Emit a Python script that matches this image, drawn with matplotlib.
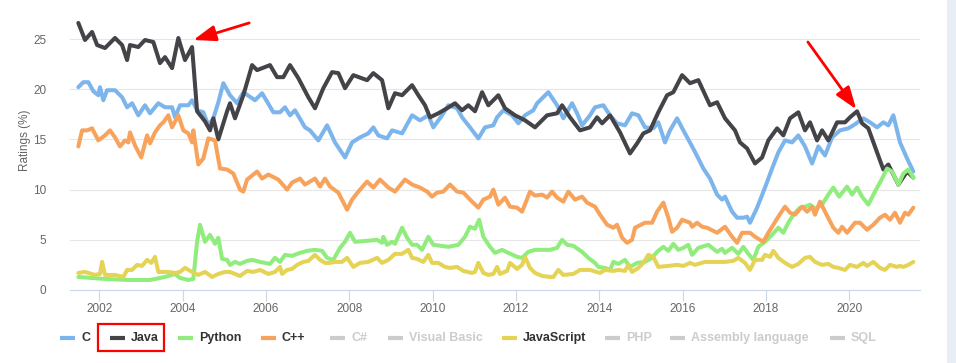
import numpy as np
import matplotlib
matplotlib.use('Agg')
import matplotlib.pyplot as plt
from matplotlib.lines import Line2D
from matplotlib.patches import Rectangle

plt.rcParams['font.family'] = ['Liberation Sans', 'DejaVu Sans']

# --- data (TIOBE style ratings, %) ---
c_t = [2001.50, 2001.62, 2001.74, 2001.86, 2001.98, 2002.02, 2002.10, 2002.19, 2002.38, 2002.55,
       2002.67, 2002.79, 2002.94, 2003.10, 2003.22, 2003.42, 2003.58, 2003.75, 2003.82, 2003.94,
       2004.14, 2004.23, 2004.35, 2004.50, 2004.62, 2004.74, 2004.86, 2004.98, 2005.14, 2005.31,
       2005.46, 2005.74, 2005.91, 2006.18, 2006.34, 2006.46, 2006.58, 2006.70, 2006.94, 2007.06,
       2007.26, 2007.47, 2007.66, 2007.90, 2008.07, 2008.26, 2008.46, 2008.58, 2008.70, 2008.91,
       2009.03, 2009.27, 2009.51, 2009.70, 2009.90, 2010.02, 2010.23, 2010.38, 2010.59, 2010.71,
       2010.90, 2011.10, 2011.26, 2011.46, 2011.55, 2011.70, 2011.91, 2012.06, 2012.22, 2012.42,
       2012.51, 2012.78, 2012.99, 2013.14, 2013.35, 2013.47, 2013.59, 2013.78, 2013.90, 2014.10,
       2014.26, 2014.43, 2014.62, 2014.79, 2014.94, 2015.10, 2015.30, 2015.42, 2015.58, 2015.70,
       2015.87, 2016.02, 2016.23, 2016.38, 2016.50, 2016.66, 2016.83, 2016.95, 2017.02, 2017.19,
       2017.31, 2017.46, 2017.55, 2017.62, 2017.79, 2017.98, 2018.15, 2018.30, 2018.46, 2018.63,
       2018.78, 2018.94, 2019.11, 2019.26, 2019.42, 2019.59, 2019.78, 2019.98, 2020.10, 2020.34,
       2020.50, 2020.67, 2020.82, 2020.94, 2021.06, 2021.22, 2021.39, 2021.54]
c_v = [20.2, 20.7, 20.7, 19.8, 19.4, 20.2, 18.9, 19.9, 19.9, 19.2,
       18.2, 18.6, 17.4, 18.4, 17.6, 18.6, 18.2, 18.2, 17.2, 18.4,
       18.4, 18.9, 17.9, 17.7, 16.4, 17.1, 18.7, 20.6, 19.4, 18.6,
       19.7, 18.9, 19.6, 17.7, 17.7, 18.2, 17.4, 17.9, 16.2, 15.9,
       14.9, 16.4, 14.7, 13.2, 14.7, 15.2, 15.6, 16.2, 15.4, 15.1,
       15.9, 15.6, 17.4, 16.9, 17.4, 16.2, 17.4, 18.4, 18.1, 17.2,
       16.2, 15.1, 16.2, 16.4, 17.2, 17.9, 17.4, 16.6, 17.4, 17.9,
       18.6, 19.7, 18.4, 17.1, 18.6, 17.6, 16.4, 17.4, 18.2, 18.4,
       17.4, 16.6, 16.4, 17.6, 17.4, 16.2, 16.1, 16.7, 14.7, 15.9,
       17.1, 15.9, 14.3, 13.1, 12.1, 11.1, 9.5, 9.0, 9.3, 7.8,
       7.2, 7.2, 7.3, 6.7, 8.2, 10.2, 12.1, 13.7, 14.9, 14.7,
       15.4, 14.3, 12.6, 14.3, 13.4, 15.2, 15.9, 16.1, 16.4, 17.1,
       16.7, 16.2, 16.7, 16.4, 17.4, 14.7, 13.1, 11.8]

java_t = [2001.50, 2001.66, 2001.83, 2001.95, 2002.14, 2002.38, 2002.55, 2002.67, 2002.74, 2002.94,
          2003.10, 2003.30, 2003.46, 2003.58, 2003.75, 2003.90, 2004.06, 2004.23, 2004.35, 2004.54,
          2004.66, 2004.74, 2004.86, 2005.07, 2005.14, 2005.26, 2005.46, 2005.67, 2005.79, 2006.10,
          2006.27, 2006.42, 2006.58, 2006.78, 2007.02, 2007.18, 2007.38, 2007.59, 2007.74, 2007.90,
          2008.10, 2008.43, 2008.58, 2008.79, 2008.94, 2009.10, 2009.27, 2009.51, 2009.66, 2009.82,
          2009.94, 2010.14, 2010.35, 2010.54, 2010.71, 2010.86, 2011.02, 2011.19, 2011.34, 2011.58,
          2011.74, 2011.98, 2012.22, 2012.46, 2012.75, 2012.99, 2013.11, 2013.30, 2013.54, 2013.78,
          2013.95, 2014.07, 2014.26, 2014.50, 2014.74, 2014.91, 2015.06, 2015.22, 2015.42, 2015.63,
          2015.78, 2015.99, 2016.18, 2016.38, 2016.66, 2016.83, 2017.02, 2017.26, 2017.38, 2017.55,
          2017.74, 2017.91, 2018.06, 2018.27, 2018.42, 2018.58, 2018.78, 2018.94, 2019.06, 2019.23,
          2019.35, 2019.50, 2019.71, 2019.90, 2020.02, 2020.19, 2020.31, 2020.46, 2020.67, 2020.82,
          2020.94, 2021.18, 2021.39, 2021.54]
java_v = [26.6, 24.9, 25.7, 24.4, 24.1, 25.1, 24.4, 22.9, 24.4, 24.2,
          24.9, 24.7, 22.6, 23.2, 22.1, 25.1, 22.9, 24.2, 17.8, 16.8,
          15.9, 17.1, 15.0, 17.8, 18.6, 17.1, 19.4, 22.4, 21.9, 22.4,
          21.2, 21.2, 22.4, 21.1, 19.2, 18.1, 20.1, 21.7, 21.6, 20.1,
          21.4, 20.9, 21.6, 20.9, 18.1, 19.6, 19.4, 20.4, 19.4, 18.4,
          17.2, 17.6, 18.1, 18.6, 17.9, 18.4, 17.8, 19.7, 18.4, 19.4,
          18.1, 17.4, 16.9, 16.2, 17.4, 17.6, 18.4, 17.2, 15.9, 16.2,
          17.2, 16.6, 17.4, 15.7, 13.6, 14.6, 15.6, 15.9, 17.7, 19.4,
          19.7, 21.4, 20.6, 20.9, 18.4, 18.7, 17.1, 15.9, 14.7, 14.1,
          12.6, 13.2, 14.9, 16.1, 15.4, 17.1, 17.7, 15.9, 16.7, 14.9,
          15.9, 14.9, 16.7, 16.7, 17.2, 17.8, 16.6, 16.1, 13.7, 12.0,
          12.5, 10.5, 11.8, 11.2]

python_t = [2001.50, 2001.83, 2002.14, 2002.70, 2003.22, 2003.58, 2003.82, 2003.94, 2004.14, 2004.26,
            2004.35, 2004.42, 2004.54, 2004.66, 2004.78, 2004.86, 2004.95, 2005.07, 2005.14, 2005.26,
            2005.38, 2005.55, 2005.67, 2005.86, 2006.10, 2006.22, 2006.34, 2006.46, 2006.63, 2006.82,
            2006.99, 2007.18, 2007.35, 2007.47, 2007.62, 2007.78, 2007.90, 2008.02, 2008.14, 2008.43,
            2008.67, 2008.79, 2008.82, 2008.91, 2009.03, 2009.10, 2009.27, 2009.39, 2009.51, 2009.63,
            2009.75, 2009.90, 2010.02, 2010.38, 2010.62, 2010.78, 2010.90, 2011.02, 2011.12, 2011.22,
            2011.38, 2011.50, 2011.67, 2011.82, 2012.03, 2012.15, 2012.30, 2012.46, 2012.58, 2012.82,
            2012.99, 2013.11, 2013.23, 2013.38, 2013.59, 2013.74, 2013.90, 2013.98, 2014.14, 2014.26,
            2014.34, 2014.46, 2014.62, 2014.74, 2014.91, 2015.10, 2015.27, 2015.39, 2015.54, 2015.66,
            2015.78, 2015.90, 2016.02, 2016.14, 2016.23, 2016.38, 2016.62, 2016.83, 2016.95, 2017.02,
            2017.19, 2017.34, 2017.46, 2017.58, 2017.70, 2017.82, 2017.98, 2018.15, 2018.30, 2018.42,
            2018.54, 2018.66, 2018.82, 2018.94, 2019.06, 2019.18, 2019.35, 2019.50, 2019.62, 2019.76,
            2019.95, 2020.07, 2020.19, 2020.31, 2020.46, 2020.62, 2020.79, 2020.91, 2021.03, 2021.18,
            2021.30, 2021.42, 2021.54]
python_v = [1.3, 1.2, 1.1, 1.0, 1.0, 1.3, 1.6, 1.2, 1.0, 1.1,
            4.8, 6.5, 4.8, 5.5, 4.6, 5.2, 3.1, 3.0, 2.5, 2.8,
            2.6, 2.9, 3.0, 2.8, 2.6, 3.2, 2.8, 3.5, 3.4, 3.7,
            3.9, 4.0, 3.9, 3.2, 3.0, 4.2, 4.8, 5.7, 4.8, 4.9,
            5.0, 4.7, 5.3, 4.5, 4.8, 4.6, 6.2, 5.2, 4.5, 4.5,
            4.0, 5.3, 4.5, 4.3, 4.5, 5.3, 6.3, 6.1, 7.0, 5.3,
            4.3, 3.7, 4.0, 3.7, 3.3, 3.2, 3.8, 4.0, 4.0, 4.0,
            4.2, 5.0, 4.5, 4.4, 3.8, 3.2, 2.7, 2.3, 2.2, 2.0,
            2.8, 2.6, 3.0, 2.3, 2.7, 2.8, 3.2, 3.8, 4.3, 3.9,
            4.6, 4.0, 4.2, 4.5, 3.5, 4.2, 4.5, 3.8, 4.1, 3.7,
            4.2, 3.6, 4.3, 3.6, 3.0, 4.3, 4.8, 5.5, 6.2, 5.7,
            6.7, 7.5, 8.2, 8.3, 8.5, 8.1, 8.5, 9.5, 10.2, 9.3,
            10.3, 9.5, 10.2, 9.3, 8.5, 9.8, 11.1, 12.1, 11.8, 10.5,
            11.6, 12.0, 11.2]

cpp_t = [2001.50, 2001.59, 2001.71, 2001.83, 2001.98, 2002.14, 2002.26, 2002.38, 2002.50, 2002.62,
         2002.70, 2002.74, 2002.86, 2003.01, 2003.15, 2003.22, 2003.34, 2003.46, 2003.54, 2003.66,
         2003.75, 2003.90, 2004.02, 2004.14, 2004.23, 2004.26, 2004.38, 2004.50, 2004.62, 2004.78,
         2004.90, 2005.07, 2005.22, 2005.38, 2005.46, 2005.55, 2005.79, 2005.91, 2006.06, 2006.30,
         2006.51, 2006.63, 2006.82, 2006.94, 2007.18, 2007.30, 2007.42, 2007.54, 2007.74, 2007.95,
         2008.07, 2008.22, 2008.43, 2008.58, 2008.74, 2008.94, 2009.10, 2009.34, 2009.51, 2009.70,
         2009.87, 2009.99, 2010.11, 2010.26, 2010.42, 2010.59, 2010.74, 2010.95, 2011.10, 2011.22,
         2011.38, 2011.46, 2011.58, 2011.74, 2011.86, 2012.03, 2012.15, 2012.34, 2012.46, 2012.63,
         2012.75, 2012.87, 2012.99, 2013.14, 2013.26, 2013.42, 2013.59, 2013.71, 2013.90, 2014.02,
         2014.19, 2014.34, 2014.43, 2014.55, 2014.67, 2014.79, 2014.86, 2015.10, 2015.27, 2015.39,
         2015.54, 2015.66, 2015.75, 2015.87, 2015.99, 2016.18, 2016.23, 2016.35, 2016.47, 2016.59,
         2016.83, 2017.02, 2017.19, 2017.31, 2017.43, 2017.62, 2017.74, 2017.94, 2018.06, 2018.18,
         2018.30, 2018.46, 2018.58, 2018.70, 2018.87, 2018.99, 2019.11, 2019.18, 2019.30, 2019.42,
         2019.62, 2019.74, 2019.83, 2019.95, 2020.14, 2020.26, 2020.43, 2020.58, 2020.74, 2020.86,
         2020.98, 2021.10, 2021.22, 2021.34, 2021.42, 2021.54]
cpp_v = [14.3, 15.9, 15.9, 16.1, 14.9, 15.4, 15.9, 15.2, 14.3, 14.9,
         14.7, 15.7, 14.4, 13.2, 15.4, 14.6, 15.7, 16.4, 16.7, 17.4,
         16.2, 17.4, 15.9, 15.6, 14.7, 15.9, 12.5, 13.1, 15.1, 14.9,
         12.1, 12.0, 11.6, 10.0, 9.8, 11.0, 11.8, 11.1, 11.5, 11.0,
         10.0, 10.7, 11.1, 10.5, 11.1, 10.3, 11.1, 10.3, 9.7, 8.0,
         9.0, 9.8, 10.8, 10.2, 11.0, 10.2, 9.8, 11.0, 10.5, 10.2,
         9.8, 9.3, 9.7, 9.8, 10.5, 9.8, 9.7, 8.8, 8.2, 9.0,
         9.3, 10.0, 8.5, 9.2, 8.3, 8.2, 7.8, 9.8, 9.4, 9.5,
         9.2, 9.8, 9.2, 8.8, 9.8, 9.0, 9.3, 8.7, 8.3, 7.5,
         6.5, 6.2, 6.5, 5.2, 4.7, 5.0, 6.2, 6.7, 6.7, 7.8,
         8.7, 7.2, 5.8, 6.2, 7.0, 6.7, 6.3, 6.7, 6.3, 6.2,
         5.7, 6.3, 5.3, 4.7, 5.7, 5.7, 5.3, 4.8, 5.7, 6.5,
         7.3, 8.3, 7.7, 7.5, 8.3, 7.8, 8.3, 7.5, 8.8, 7.8,
         6.2, 5.7, 6.3, 5.7, 6.7, 6.7, 6.0, 6.5, 7.2, 7.5,
         7.0, 7.7, 6.7, 7.7, 7.5, 8.2]

js_t = [2001.50, 2001.66, 2001.90, 2002.02, 2002.07, 2002.14, 2002.38, 2002.58, 2002.67, 2002.79,
        2002.91, 2003.03, 2003.15, 2003.25, 2003.34, 2003.42, 2003.66, 2003.82, 2003.94, 2004.06,
        2004.23, 2004.38, 2004.54, 2004.71, 2004.86, 2005.02, 2005.14, 2005.38, 2005.55, 2005.70,
        2005.86, 2006.06, 2006.22, 2006.34, 2006.39, 2006.51, 2006.63, 2006.75, 2006.90, 2007.02,
        2007.18, 2007.30, 2007.42, 2007.54, 2007.66, 2007.83, 2007.95, 2008.10, 2008.26, 2008.46,
        2008.67, 2008.79, 2008.94, 2009.10, 2009.27, 2009.42, 2009.51, 2009.63, 2009.78, 2009.90,
        2009.99, 2010.14, 2010.30, 2010.42, 2010.59, 2010.74, 2010.95, 2011.02, 2011.10, 2011.22,
        2011.34, 2011.46, 2011.55, 2011.62, 2011.79, 2011.86, 2012.03, 2012.15, 2012.22, 2012.34,
        2012.46, 2012.63, 2012.82, 2012.90, 2013.02, 2013.14, 2013.38, 2013.54, 2013.78, 2014.02,
        2014.14, 2014.34, 2014.46, 2014.62, 2014.70, 2014.79, 2014.94, 2015.06, 2015.18, 2015.30,
        2015.42, 2015.66, 2015.87, 2016.02, 2016.18, 2016.30, 2016.54, 2016.78, 2017.02, 2017.22,
        2017.34, 2017.50, 2017.62, 2017.74, 2017.91, 2017.98, 2018.10, 2018.18, 2018.30, 2018.46,
        2018.63, 2018.78, 2018.94, 2019.06, 2019.18, 2019.35, 2019.50, 2019.62, 2019.74, 2019.90,
        2020.02, 2020.19, 2020.34, 2020.43, 2020.58, 2020.74, 2020.86, 2020.98, 2021.15, 2021.22,
        2021.30, 2021.42, 2021.54]
js_v = [1.7, 1.8, 1.5, 1.6, 2.8, 1.5, 1.5, 1.3, 2.0, 2.0,
        2.5, 2.4, 3.0, 2.7, 3.3, 1.8, 1.8, 1.7, 1.8, 2.2,
        1.8, 1.5, 1.8, 1.3, 1.6, 1.8, 1.8, 1.4, 1.9, 1.8,
        2.0, 1.6, 1.8, 2.3, 1.6, 2.0, 2.1, 2.5, 2.8, 2.9,
        3.5, 3.0, 2.7, 2.7, 2.8, 2.8, 3.2, 2.3, 2.7, 2.8,
        3.2, 2.7, 3.0, 3.6, 3.6, 4.0, 3.2, 3.1, 2.8, 3.5,
        2.7, 2.7, 2.3, 2.2, 2.3, 1.9, 1.7, 1.8, 2.7, 1.7,
        1.5, 1.6, 2.3, 1.6, 1.9, 2.7, 2.1, 2.5, 3.3, 2.2,
        1.7, 1.4, 1.3, 1.3, 2.0, 1.5, 1.6, 2.0, 2.0, 1.7,
        2.0, 1.9, 2.0, 1.9, 2.5, 1.8, 2.2, 2.7, 3.5, 3.3,
        2.3, 2.4, 2.5, 2.4, 2.7, 2.5, 2.8, 2.8, 2.8, 2.9,
        3.2, 2.7, 2.0, 3.0, 3.0, 3.5, 3.3, 3.9, 3.2, 2.7,
        2.3, 2.6, 3.2, 3.3, 2.8, 2.5, 2.6, 2.3, 2.2, 2.0,
        2.5, 2.3, 2.7, 2.4, 2.8, 2.2, 2.0, 2.5, 2.3, 2.4,
        2.3, 2.5, 2.8]

legend_names = ['C', 'Java', 'Python', 'C++', 'C#', 'Visual Basic', 'JavaScript',
                'PHP', 'Assembly language', 'SQL']
legend_on = [True, True, True, True, False, False, True, False, False, False]
year_ticks = [2002, 2004, 2006, 2008, 2010, 2012, 2014, 2016, 2018, 2020]
y_ticks = [0, 5, 10, 15, 20, 25]

colors = {'C': '#7cb5ec', 'Java': '#434348', 'Python': '#90ed7d',
          'C++': '#f7a35c', 'JavaScript': '#e4d354'}

W, H = 956, 363
fig = plt.figure(figsize=(W / 100, H / 100), dpi=100)
fig.patch.set_facecolor('white')

# light panel on the right edge
fig.patches.append(Rectangle((947 / W, 0), 1, 1, transform=fig.transFigure,
                             facecolor='#e9edf4', edgecolor='none', zorder=0))

ax = fig.add_axes([70 / W, (H - 290) / H, 850 / W, 290 / H])
ax.set_facecolor('none')
ax.set_xlim(2001.30, 2021.70)
ax.set_ylim(0, 290 / 10.04)

for s in ['top', 'right', 'left']:
    ax.spines[s].set_visible(False)
ax.spines['bottom'].set_color('#ccd6eb')
ax.spines['bottom'].set_linewidth(0.8)

ax.set_yticks(y_ticks)
ax.set_xticks(year_ticks)
ax.set_xticklabels([str(y) for y in year_ticks])
ax.tick_params(axis='y', length=0, pad=17, labelsize=8.5, labelcolor='#666666')
ax.tick_params(axis='x', length=8, width=0.8, color='#ccd6eb', pad=1.5,
               labelsize=8.5, labelcolor='#666666')
for v in y_ticks[1:]:
    ax.axhline(v, color='#e6e6e6', lw=0.8, zorder=0)

lw = 2.9
series = [('C', c_t, c_v), ('Java', java_t, java_v), ('Python', python_t, python_v),
          ('C++', cpp_t, cpp_v), ('JavaScript', js_t, js_v)]
for i, (name, t, v) in enumerate(series):
    ax.plot(t, v, color=colors[name], lw=lw, solid_joinstyle='round',
            solid_capstyle='round', zorder=2 + i)

fig.text(25 / W, 1 - 140 / H, 'Ratings (%)', rotation=90, ha='center', va='center',
         fontsize=8.5, color='#666666')

# red arrows
arrow = dict(arrowstyle='-|>,head_length=0.9,head_width=0.32', color='#ff0000',
             lw=2, mutation_scale=15, shrinkA=0, shrinkB=0)
ax.annotate('', xy=(2004.26, 24.9), xytext=(2005.60, 26.6), arrowprops=arrow)
ax.annotate('', xy=(2020.17, 18.0), xytext=(2019.01, 24.7), arrowprops=arrow)

# legend drawn by hand
sw = [60, 110, 178, 261, 330, 388, 502, 605, 670, 830]
ly = 1 - 338 / H
for x0, name, on in zip(sw, legend_names, legend_on):
    col = colors.get(name, '#cccccc') if on else '#cccccc'
    fig.add_artist(Line2D([x0 / W, (x0 + 15) / W], [ly, ly], color=col, lw=3,
                          solid_capstyle='butt', transform=fig.transFigure))
    fig.text((x0 + 21) / W, ly, name, ha='left', va='center', fontsize=9,
             fontweight='bold', color='#333333' if on else '#cccccc')

fig.patches.append(Rectangle((98 / W, 1 - 351 / H), 66 / W, 27 / H,
                             transform=fig.transFigure, facecolor='none',
                             edgecolor='#ff0000', lw=1.6, zorder=5))

fig.savefig('out.png', dpi=100)
